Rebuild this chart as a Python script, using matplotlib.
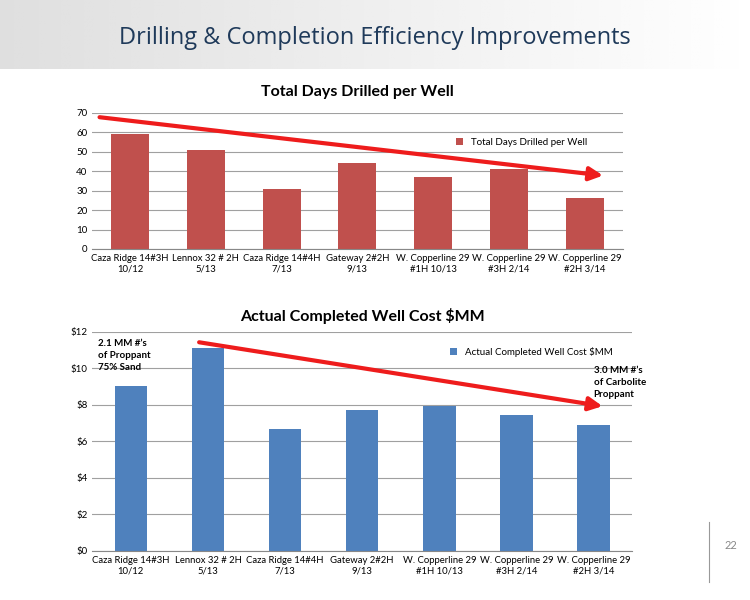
import numpy as np
import matplotlib.pyplot as plt

plt.rcParams['font.family'] = ['Lato', 'DejaVu Sans']

wells = ['Caza Ridge 14#3H\n10/12', 'Lennox 32 # 2H\n5/13', 'Caza Ridge 14#4H\n7/13',
         'Gateway 2#2H\n9/13', 'W. Copperline 29\n#1H 10/13', 'W. Copperline 29\n#3H 2/14',
         'W. Copperline 29\n#2H 3/14']
days = [59, 51, 31, 44, 37, 41, 26]
cost = [9.05, 11.1, 6.65, 7.7, 7.95, 7.45, 6.9]

fig = plt.figure(figsize=(7.5, 6), dpi=100)

# header band
bg = fig.add_axes([0, 0.885, 1, 0.115])
grad = np.linspace(0.75, 1.0, 300)[None, :] * np.ones((20, 1))
bg.imshow(grad, cmap='gray', vmin=0, vmax=1, aspect='auto', alpha=0.5)
bg.axis('off')
fig.text(0.5, 0.937, 'Drilling & Completion Efficiency Improvements', ha='center', va='center',
         fontsize=17, color='#1f3a5a', family='Open Sans')

x = np.arange(len(wells))

def style(ax):
    ax.set_xlim(-0.5, len(wells) - 0.5)
    ax.grid(axis='y', color='#a0a0a0', lw=0.8)
    ax.set_axisbelow(True)
    for s in ['top', 'right', 'left']:
        ax.spines[s].set_visible(False)
    ax.spines['bottom'].set_color('#888888')
    ax.tick_params(axis='y', length=0, labelsize=7)
    ax.tick_params(axis='x', length=0, labelsize=6.8)
    ax.set_xticks(x, wells)

ax1 = fig.add_axes([0.123, 0.585, 0.707, 0.227])
ax1.bar(x, days, width=0.5, color='#c0504d', label='Total Days Drilled per Well')
ax1.set_ylim(0, 70)
ax1.set_yticks(range(0, 71, 10))
style(ax1)
ax1.set_title('Total Days Drilled per Well', fontsize=11.5, fontweight='bold', pad=12)
ax1.legend(loc='upper right', bbox_to_anchor=(0.95, 0.88), frameon=False, fontsize=7,
           handlelength=0.7, handleheight=0.7)
ax1.annotate('', xy=(6.28, 37.6), xytext=(-0.44, 67.9),
             arrowprops=dict(arrowstyle='-|>', color='#ee1c1c', lw=3, mutation_scale=20))

ax2 = fig.add_axes([0.123, 0.082, 0.72, 0.365])
ax2.bar(x, cost, width=0.42, color='#4f81bd', label='Actual Completed Well Cost $MM')
ax2.set_ylim(0, 12)
ax2.set_yticks(range(0, 13, 2), ['$%d' % v for v in range(0, 13, 2)])
style(ax2)
ax2.set_title('Actual Completed Well Cost $MM', fontsize=11.5, fontweight='bold', pad=8)
ax2.legend(loc='upper right', bbox_to_anchor=(0.98, 0.97), frameon=False, fontsize=7,
           handlelength=0.7, handleheight=0.7)
ax2.annotate('', xy=(6.15, 7.9), xytext=(0.85, 11.45),
             arrowprops=dict(arrowstyle='-|>', color='#ee1c1c', lw=3, mutation_scale=20))
ax2.text(-0.42, 11.6, '2.1 MM #\u2019s\nof Proppant\n75% Sand', fontsize=7, va='top',
         fontweight='bold', linespacing=1.4)
ax2.text(6.0, 10.1, '3.0 MM #\u2019s\nof Carbolite\nProppant', fontsize=7, va='top',
         fontweight='bold', linespacing=1.4)

fig.add_artist(plt.Line2D([0.945, 0.945], [0.03, 0.13], color='#999999', lw=0.8))
fig.text(0.975, 0.085, '22', fontsize=8, color='#888888', ha='center')

fig.savefig('out.png', dpi=100)
